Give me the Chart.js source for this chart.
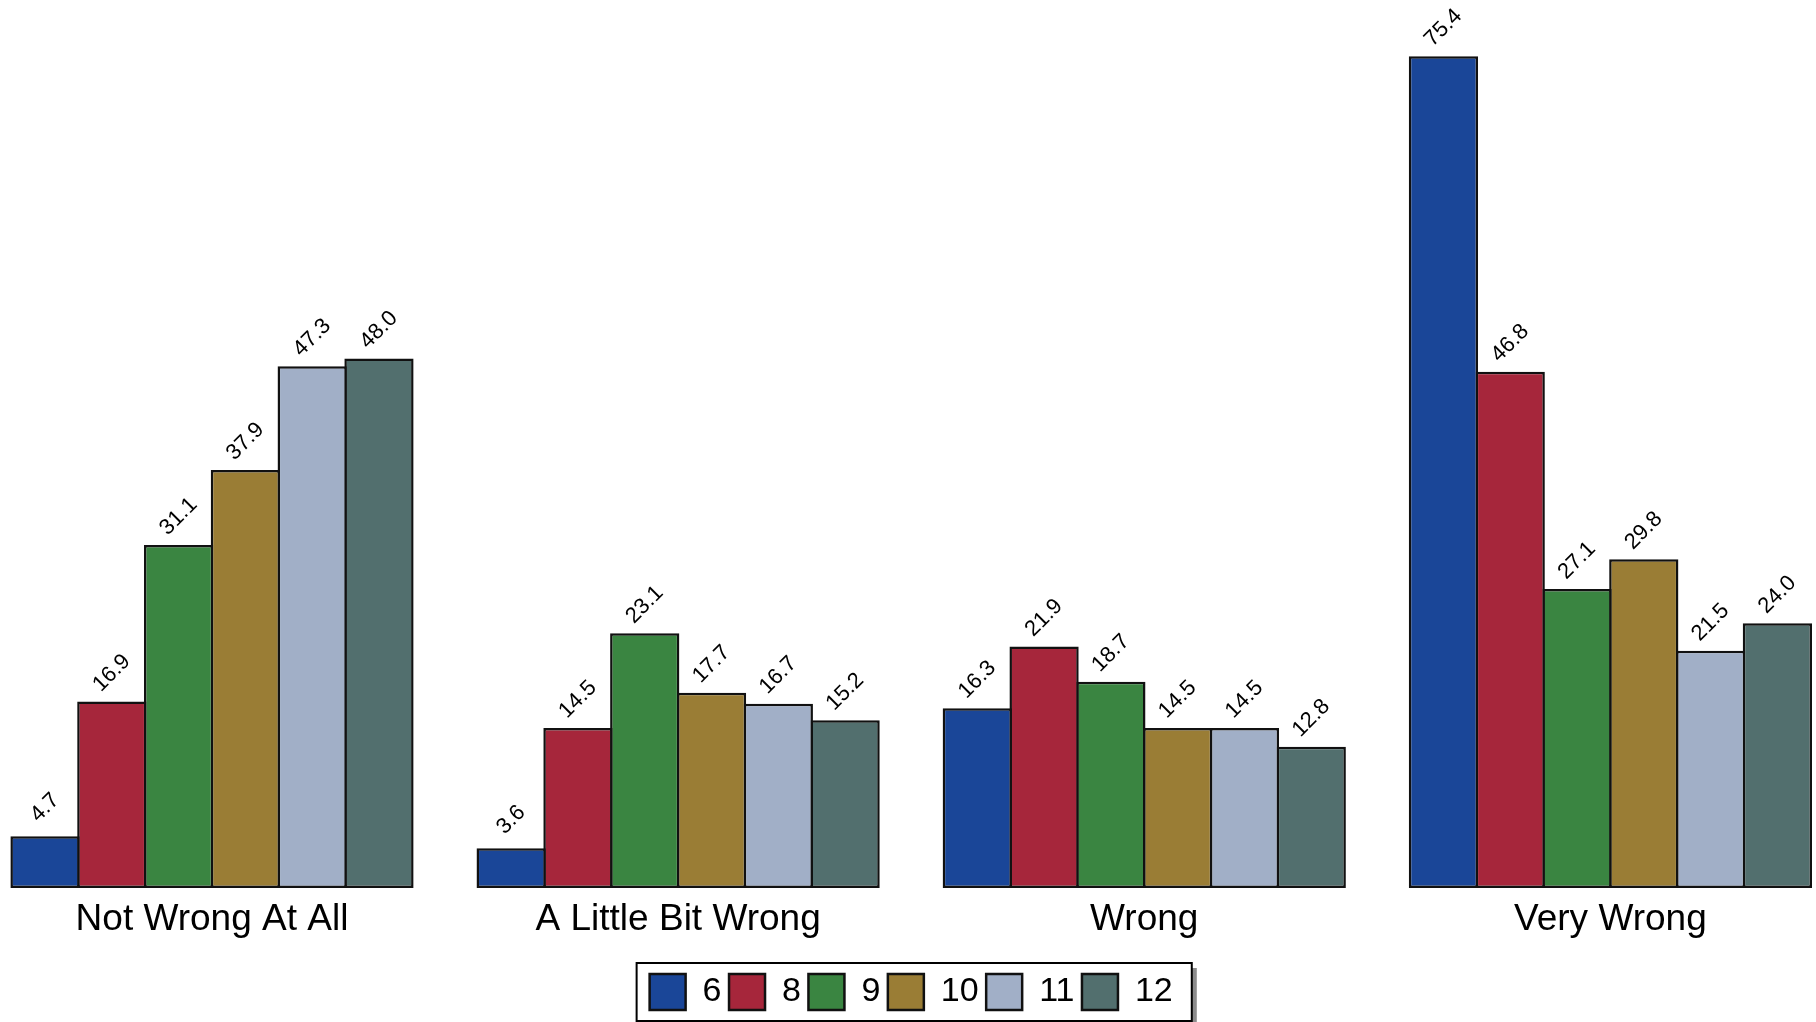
<!DOCTYPE html>
<html>
<head>
<meta charset="utf-8">
<script src="https://cdn.jsdelivr.net/npm/chart.js@4.4.1/dist/chart.umd.min.js"></script>
<style>
  html, body { margin: 0; padding: 0; background: #ffffff; }
  #wrap { width: 1816px; height: 1022px; position: relative; }
</style>
</head>
<body>
<div id="wrap"><canvas id="c"></canvas></div>
<script>
// ---- data ----
const categories = ['Not Wrong At All', 'A Little Bit Wrong', 'Wrong', 'Very Wrong'];
const seriesNames = ['6', '8', '9', '10', '11', '12'];
const grade6  = [4.7, 3.6, 16.3, 75.4];
const grade8  = [16.9, 14.5, 21.9, 46.8];
const grade9  = [31.1, 23.1, 18.7, 27.1];
const grade10 = [37.9, 17.7, 14.5, 29.8];
const grade11 = [47.3, 16.7, 14.5, 21.5];
const grade12 = [48.0, 15.2, 12.8, 24.0];
const yMin = 0;
const yMax = 80;

// ---- styles ----
const seriesValues = [grade6, grade8, grade9, grade10, grade11, grade12];
const seriesColors = ['#1A4698', '#A6263B', '#3A8541', '#9A7D35', '#A1AFC7', '#526F6E'];
const FONT = "'Liberation Sans', Arial, Helvetica, sans-serif";
Chart.defaults.font.family = FONT;
Chart.defaults.color = '#000';

const datasets = seriesNames.map((name, i) => ({
  label: name,
  data: seriesValues[i],
  backgroundColor: seriesColors[i],
  borderColor: '#111111',
  borderWidth: 2.5,
  borderSkipped: false,
  categoryPercentage: 0.8597,
  barPercentage: 1.037,
  clip: false
}));

// value labels rotated 45 degrees above each bar
const valueLabels = {
  id: 'valueLabels',
  afterDatasetsDraw(chart) {
    const ctx = chart.ctx;
    ctx.save();
    ctx.font = '22px ' + FONT;
    ctx.fillStyle = '#000';
    ctx.textAlign = 'center';
    ctx.textBaseline = 'middle';
    chart.data.datasets.forEach((ds, di) => {
      const meta = chart.getDatasetMeta(di);
      meta.data.forEach((el, j) => {
        const p = el.getProps(['x', 'y'], true);
        ctx.save();
        ctx.translate(p.x, p.y - 28.5);
        ctx.rotate(-Math.PI / 4);
        ctx.fillText(Number(ds.data[j]).toFixed(1), 0, 0);
        ctx.restore();
      });
    });
    ctx.restore();
  }
};

// framed legend box with shadow
const legendFrame = {
  id: 'legendFrame',
  beforeDraw(chart) {
    const lg = chart.legend;
    if (!lg || !lg.legendHitBoxes || !lg.legendHitBoxes.length) return;
    const hb = lg.legendHitBoxes;
    const first = hb[0], last = hb[hb.length - 1];
    const L = first.left - 13;
    const R = last.left + last.width + 19;
    const T = first.top - 11;
    const B = first.top + first.height + 11;
    const ctx = chart.ctx;
    ctx.save();
    ctx.fillStyle = '#8c8c8c';
    ctx.fillRect(L + 5, T + 5, R - L, B - T);
    ctx.fillStyle = '#ffffff';
    ctx.fillRect(L, T, R - L, B - T);
    ctx.strokeStyle = '#000';
    ctx.lineWidth = 2;
    ctx.strokeRect(L, T, R - L, B - T);
    ctx.restore();
  }
};

new Chart(document.getElementById('c'), {
  type: 'bar',
  data: { labels: categories, datasets },
  plugins: [legendFrame, valueLabels],
  options: {
    responsive: true,
    maintainAspectRatio: false,
    animation: false,
    layout: { padding: { left: 212, right: 205.6, top: 5.6, bottom: 2 } },
    plugins: {
      tooltip: { enabled: false },
      legend: {
        position: 'bottom',
        labels: {
          boxWidth: 36,
          boxHeight: 36,
          padding: 7.5,
          color: '#000',
          font: { size: 34, family: FONT }
        }
      }
    },
    scales: {
      x: {
        offset: false,
        grid: { display: false, drawTicks: false },
        border: { display: false },
        ticks: { padding: 9.5, color: '#000', font: { size: 37, family: FONT }, maxRotation: 0, autoSkip: false },
        afterFit(scale) { scale.height = 78.5; }
      },
      y: {
        display: false,
        min: yMin,
        max: yMax
      }
    }
  }
});
</script>
</body>
</html>
